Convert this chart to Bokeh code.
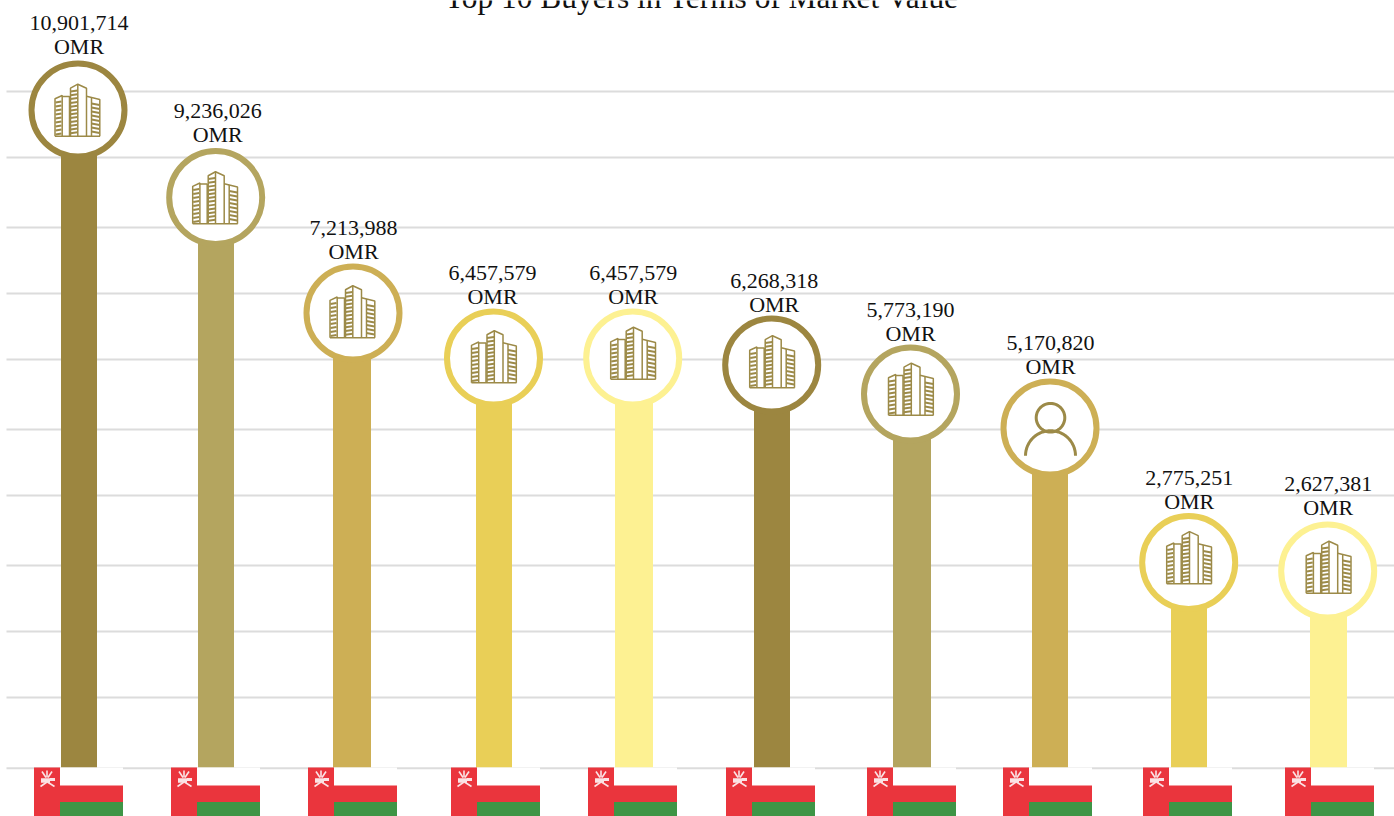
import math
from bokeh.plotting import figure
from bokeh.models import Range1d
from bokeh.core.properties import value
from bokeh.embed import file_html
from bokeh.resources import INLINE

# ---- data -------------------------------------------------------------
title = "Top 10 Buyers in Terms of Market Value"
ranks = [1, 2, 3, 4, 5, 6, 7, 8, 9, 10]
values = [10901714, 9236026, 7213988, 6457579, 6457579, 6268318, 5773190, 5170820, 2775251, 2627381]
labels = ["10,901,714", "9,236,026", "7,213,988", "6,457,579", "6,457,579",
          "6,268,318", "5,773,190", "5,170,820", "2,775,251", "2,627,381"]
unit = "OMR"
buyer_type = ["company"] * 7 + ["person"] + ["company"] * 2

# ---- layout / style ----------------------------------------------------
W, H = 1394, 816
BASE_PX = 767.0
PX_PER_M = 56.33
FIRST_X, STEP_X = 79.0, 138.9

BAR_X = [78.5, 215.5, 351.5, 493.5, 633.5, 771.5, 911.5, 1049.5, 1188.5, 1328]
BAR_W = [36, 36, 38, 36, 38, 36, 38, 36, 36, 37]
RING_X = [77.5, 215.2, 352.5, 493, 632.2, 771.2, 910, 1049.5, 1188.2, 1327.2]
RING_LIFT = [43.4, 49.7, 48.1, 45.7, 45.7, 49.4, 48.3, 48.2, 48.7, 48.5]
ICON_DX = [0.5, 0.5, 0.5, 1.5, 1.5, 1.5, 1.5, 0.5, 1.5, 2]
ICON_DY = [0.5, 0.5, -1, -1, -4.5, -3, -4.5, 0, -4.5, -3.5]
LABEL_DX = [1, 2, 0.5, -1, 0.5, 2.5, 0, 0.5, 0.5, 0.5]
LABEL_DY = [0.5, 1, 2.5, 2.5, 2.5, 3.5, 3, 2.5, 2.5, 0.5]
FLAG_L = [33.5, 170.5, 307.5, 450.5, 587.5, 725.5, 866.5, 1002.5, 1142.5, 1284.5]
GRID_PX = [91, 157, 227, 293, 359, 429, 495, 565, 631, 697, 767.7]
PALETTE = ["#9C8640", "#B4A55F", "#CDAF55", "#E9CF57", "#FDF192"]
ICON = "#9C8A48"


def rx(px):
    return 1 + (px - FIRST_X) / STEP_X


def ry(py):
    return (BASE_PX - py) / PX_PER_M


p = figure(width=W, height=H, output_backend="svg", toolbar_location=None,
           x_range=Range1d(rx(0), rx(W)), y_range=Range1d(ry(H), ry(0)),
           min_border=0, outline_line_color=None, background_fill_color="white",
           border_fill_color="white")
p.styles = {"position": "absolute", "left": "0px", "top": "0px"}
p.xaxis.visible = False
p.yaxis.visible = False
p.xgrid.visible = False
p.ygrid.visible = False

# grid lines
p.segment(x0=[rx(6)] * len(GRID_PX), x1=[rx(W)] * len(GRID_PX),
          y0=[ry(g) for g in GRID_PX], y1=[ry(g) for g in GRID_PX],
          line_color="#DCDCDC", line_width=2)

levels = [v / 1e6 + l / PX_PER_M for v, l in zip(values, RING_LIFT)]
colors = [PALETTE[i % 5] for i in range(10)]

# bars
p.vbar(x=[rx(x) for x in BAR_X], width=[w / STEP_X for w in BAR_W], bottom=0, top=levels,
       fill_color=colors, line_color=None)

# rings
ring_xs = [rx(x) for x in RING_X]
p.scatter(x=ring_xs, y=levels, size=93, marker="circle", fill_color="white",
          line_color=colors, line_width=6)

# icons
BUILDING = [
    [(-23.5, 25.7), (21.5, 25.7)],
    [(-23.5, 25.7), (-23.5, -11.7), (-16.3, -15), (-16.3, 25.7)],
    [(-16.3, -14), (-9, -14), (-9, 25.7)],
    [(-8, 25.7), (-8, -22.3), (-0.7, -26.3), (8, -22.3), (8, 25.7)],
    [(-0.7, -26.3), (-0.7, 25.7)],
    [(8, -14.3), (21.3, -11), (21.3, 25.7)],
    [(13, -13), (13, 25.7)],
]
WINDOWS = []
for k in range(9):
    WINDOWS.append([(-23, -8 + k * 4), (-17, -9 + k * 4)])
for k in range(12):
    WINDOWS.append([(-8, -19 + k * 3.8), (-1, -20 + k * 3.8)])
for k in range(8):
    WINDOWS.append([(13, -7 + k * 4), (21, -5.5 + k * 4)])

outline_xs, outline_ys, win_xs, win_ys = [], [], [], []
person_xs, person_ys = [], []
for kind, cx, lvl, dx, dy in zip(buyer_type, RING_X, levels, ICON_DX, ICON_DY):
    cy = BASE_PX - lvl * PX_PER_M + dy
    cx = cx + dx
    if kind == "company":
        for seg in BUILDING:
            outline_xs.append([rx(cx + a) for a, b in seg])
            outline_ys.append([ry(cy + b) for a, b in seg])
        for seg in WINDOWS:
            win_xs.append([rx(cx + a) for a, b in seg])
            win_ys.append([ry(cy + b) for a, b in seg])
    else:
        head = [(14.3 * math.cos(t / 30 * math.pi), -10.3 + 14.3 * math.sin(t / 30 * math.pi)) for t in range(61)]
        body = [(25 * math.cos(t / 30 * math.pi), 27.7 + 25 * math.sin(t / 30 * math.pi)) for t in range(-30, 1)]
        for seg in (head, body):
            person_xs.append([rx(cx + a) for a, b in seg])
            person_ys.append([ry(cy + b) for a, b in seg])

p.multi_line(outline_xs, outline_ys, line_color=ICON, line_width=1.5)
p.multi_line(win_xs, win_ys, line_color=ICON, line_width=2)
p.multi_line(person_xs, person_ys, line_color=ICON, line_width=3)

# flags
FLAG_TOP, FLAG_MID, FLAG_LOW = 767.0, 785.0, 801.5
EMBLEM = "#FBE3E5"
for L in FLAG_L:
    p.quad(left=rx(L + 26), right=rx(L + 89), top=ry(FLAG_TOP), bottom=ry(FLAG_MID), fill_color="#FFFFFF", line_color=None)
    p.quad(left=rx(L + 26), right=rx(L + 89), top=ry(FLAG_MID), bottom=ry(FLAG_LOW), fill_color="#EA353D", line_color=None)
    p.quad(left=rx(L + 26), right=rx(L + 89), top=ry(FLAG_LOW), bottom=ry(H + 2), fill_color="#3E9546", line_color=None)
    p.quad(left=rx(L), right=rx(L + 26), top=ry(FLAG_TOP), bottom=ry(H + 2), fill_color="#EA353D", line_color=None)
    thin = [[(13, 3), (13, 10)], [(8, 4), (12, 10)], [(18, 4), (14, 10)],
            [(6.5, 19), (13, 14.5)], [(20.5, 19), (13.5, 14.5)]]
    p.multi_line([[rx(L + a) for a, b in s] for s in thin],
                 [[ry(FLAG_TOP + b) for a, b in s] for s in thin],
                 line_color=EMBLEM, line_width=1.6)
    p.line([rx(L + 7), rx(L + 16)], [ry(FLAG_TOP + 13)] * 2, line_color=EMBLEM, line_width=4.5)
    p.line([rx(L + 16), rx(L + 21)], [ry(FLAG_TOP + 12)] * 2, line_color=EMBLEM, line_width=3)

# value labels
SERIF = value("Liberation Serif")
centres = [BASE_PX - l * PX_PER_M for l in levels]
label_xs = [rx(x + d) for x, d in zip(RING_X, LABEL_DX)]
lab_y1 = [ry(c - 87.4 + d) for c, d in zip(centres, LABEL_DY)]
lab_y2 = [ry(c - 63.6 + d) for c, d in zip(centres, LABEL_DY)]
p.text(label_xs, lab_y1, text=labels, text_font=SERIF, text_font_size=value("22px"),
       text_color="#111111", text_align="center", text_baseline="alphabetic")
p.text(label_xs, lab_y2, text=[unit] * 10, text_font=SERIF, text_font_size=value("22px"),
       text_color="#111111", text_align="center", text_baseline="alphabetic")

# title
p.text([rx(701.5)], [ry(-2.6)], text=[title], text_font=SERIF, text_font_size=value("31.4px"),
       text_color="#111111", text_align="center", text_baseline="alphabetic")

open("out.html", "w").write(file_html(p, INLINE))
